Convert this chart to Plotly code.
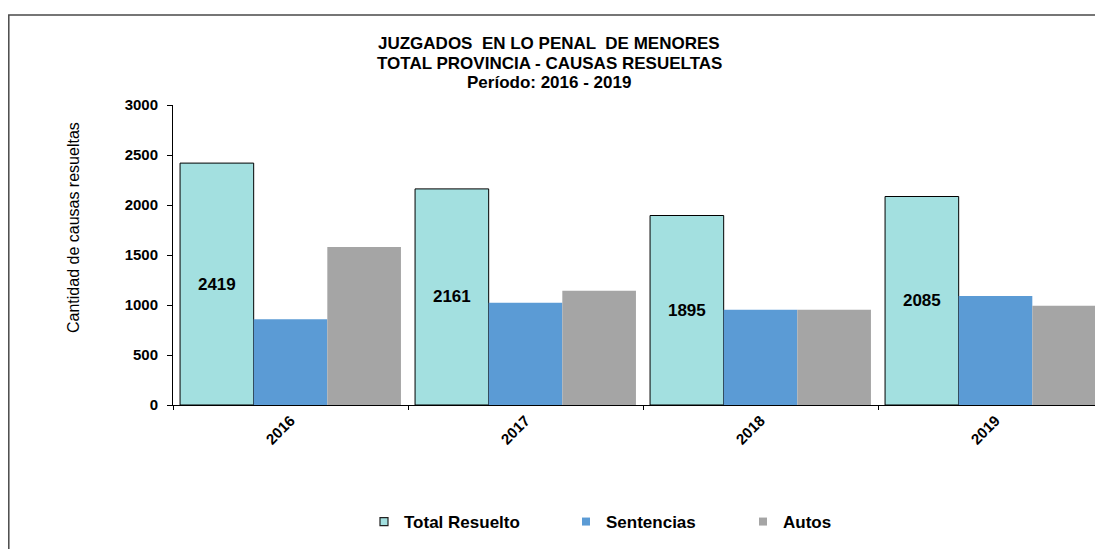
import plotly.graph_objects as go

years = ["2016", "2017", "2018", "2019"]
total_resuelto = [2419, 2161, 1895, 2085]
sentencias = [857, 1023, 953, 1090]
autos = [1580, 1143, 953, 993]

title_lines = [
    "JUZGADOS  EN LO PENAL  DE MENORES",
    "TOTAL PROVINCIA - CAUSAS RESUELTAS",
    "Período: 2016 - 2019",
]
y_title = "Cantidad de causas resueltas"
series_names = ["Total Resuelto", "Sentencias", "Autos"]
colors = ["#A3E0E0", "#5B9BD5", "#A5A5A5"]

FONT = "Liberation Sans, Arial, sans-serif"
OFF = 8  # page body margin
W, H = 1103 - OFF, 549 - OFF
L, T, R = 173 - OFF, 105 - OFF, 0
B = H - (405 - OFF)
PW, PH = W - L - R, H - T - B

def px_x(p):
    return (p - OFF - L) / PW

def px_y(p):
    return (H - B - (p - OFF)) / PH

fig = go.Figure()

fig.add_trace(go.Bar(
    x=years, y=total_resuelto, name=series_names[0],
    marker=dict(color=colors[0], line=dict(color="black", width=1)),
    text=[str(v) for v in total_resuelto], textposition="inside",
    insidetextanchor="middle", textangle=0,
    textfont=dict(family=FONT, size=17, color="black", weight="bold"),
    showlegend=False,
))
fig.add_trace(go.Bar(
    x=years, y=sentencias, name=series_names[1],
    marker=dict(color=colors[1], line=dict(width=0)), showlegend=False,
))
fig.add_trace(go.Bar(
    x=years, y=autos, name=series_names[2],
    marker=dict(color=colors[2], line=dict(width=0)), showlegend=False,
))

# legend entries
legend_ids = ["legend", "legend2", "legend3"]
for i, (nm, col) in enumerate(zip(series_names, colors)):
    fig.add_trace(go.Scatter(
        x=[None], y=[None], mode="markers", name=nm,
        marker=dict(symbol="square", size=8, color=col,
                    line=dict(color="#222" if i == 0 else col, width=1.2 if i == 0 else 0)),
        showlegend=True, legend=legend_ids[i],
    ))

# page x where each legend text starts
legend_text_x = [404, 606, 783]
legend_common = dict(
    orientation="h", xref="container", yref="container",
    yanchor="middle", xanchor="left", y=1 - (522 - OFF) / H,
    font=dict(family=FONT, size=17, color="black", weight="bold"),
    bgcolor="rgba(0,0,0,0)", itemwidth=30,
)
fig.update_layout(
    legend=dict(x=(legend_text_x[0] - 40 - OFF) / W, **legend_common),
    legend2=dict(x=(legend_text_x[1] - 40 - OFF) / W, **legend_common),
    legend3=dict(x=(legend_text_x[2] - 40 - OFF) / W, **legend_common),
)

# title lines
title_y = [44, 63, 82]
for txt, yy in zip(title_lines, title_y):
    fig.add_annotation(
        text="<b>" + txt + "</b>", xref="paper", yref="paper",
        x=px_x(549), y=px_y(yy), xanchor="center", yanchor="middle",
        showarrow=False, font=dict(family=FONT, size=17, color="black"),
    )

fig.add_annotation(
    text=y_title, xref="paper", yref="paper", x=px_x(73), y=px_y(228),
    xanchor="center", yanchor="middle", textangle=-90, showarrow=False,
    font=dict(family=FONT, size=16, color="black"),
)

# outer frame
fig.add_shape(
    type="rect", xref="paper", yref="paper",
    x0=px_x(8.8), y0=px_y(15), x1=px_x(1130), y1=px_y(580),
    line=dict(color="#4a4a4a", width=1.5), fillcolor="rgba(0,0,0,0)", layer="above",
)

fig.update_layout(
    width=W, height=H,
    margin=dict(l=L, r=R, t=T, b=B, autoexpand=False),
    paper_bgcolor="white", plot_bgcolor="white",
    barmode="group", bargap=0.06, bargroupgap=0,
    font=dict(family=FONT, color="black"),
    xaxis=dict(
        type="category", range=[-0.5, -0.5 + PW / 235.0],
        showline=True, linecolor="black", linewidth=1,
        ticks="outside", ticklen=4, tickcolor="black", tickson="boundaries",
        tickangle=-45, showgrid=False, zeroline=False,
        tickfont=dict(family=FONT, size=15, color="black", weight="bold"),
    ),
    yaxis=dict(
        range=[0, 3000], dtick=500, tick0=0,
        showline=True, linecolor="black", linewidth=1,
        ticks="outside", ticklen=5, tickcolor="black",
        ticklabelstandoff=6,
        showgrid=False, zeroline=False,
        tickfont=dict(family=FONT, size=15, color="black", weight="bold"),
    ),
)

fig.write_html("out.html")
